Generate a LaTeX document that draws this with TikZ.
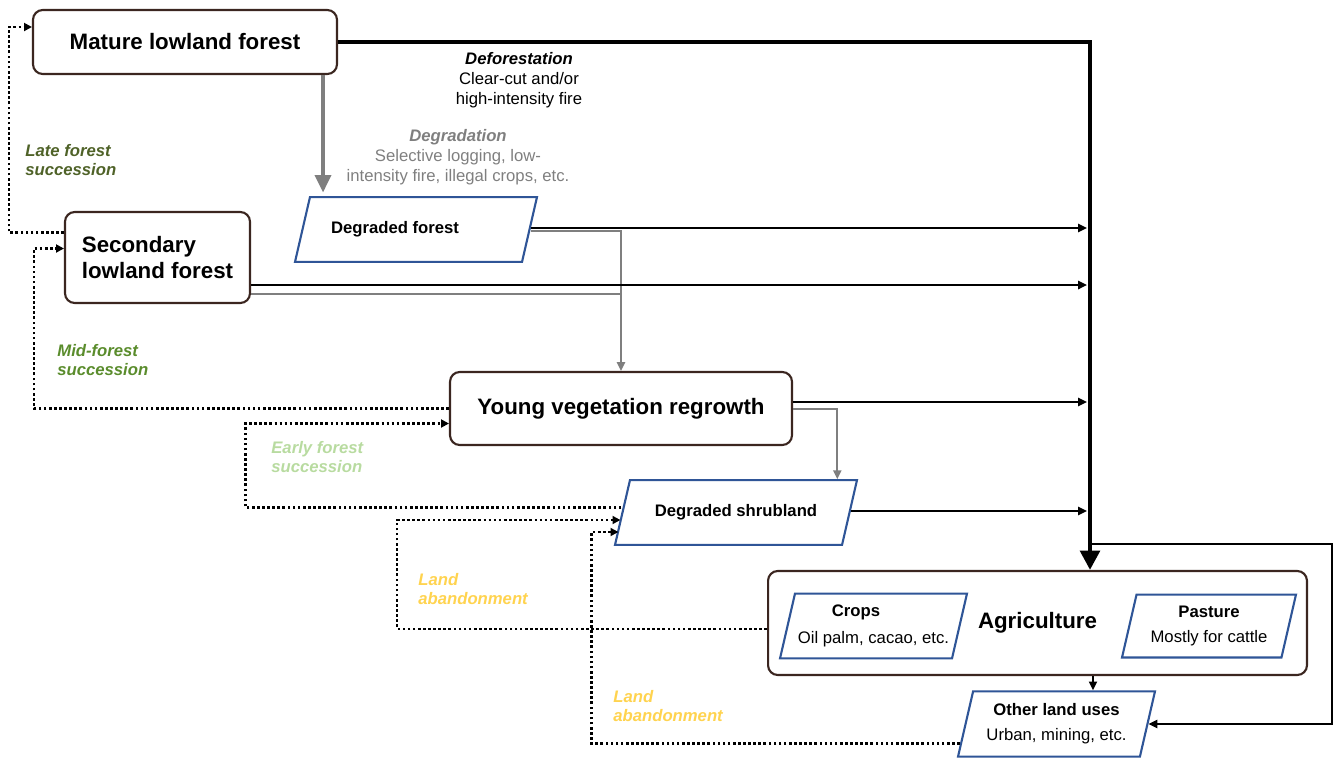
\documentclass[tikz,border=0pt]{standalone}
\usepackage{fontspec}
\setmainfont{Liberation Sans}
\usetikzlibrary{positioning, calc, shapes.geometric, arrows.meta}
\definecolor{boxline}{HTML}{3B2620}
\definecolor{landline}{HTML}{2F5597}
\definecolor{lategreen}{HTML}{4F6228}
\definecolor{midgreen}{HTML}{5A8C2C}
\definecolor{earlygreen}{HTML}{B8DBA0}
\definecolor{abandon}{HTML}{FFD34F}
\definecolor{degrade}{HTML}{7F7F7F}

\begin{document}
\begin{tikzpicture}[
        x=0.02cm, y=-0.02cm,
        big/.style={font=\fontsize{12.7}{14.5}\selectfont\bfseries},
        small/.style={font=\fontsize{9.5}{11.3}\selectfont},
        cover/.style={rectangle, draw=boxline, line width=1.2pt, rounded corners=5.5pt, fill=white, align=center, big},
        land/.style={trapezium, trapezium left angle=77, trapezium right angle=103, trapezium stretches body=true, draw=landline, line width=1.2pt, fill=white, align=center, small, inner xsep=0pt},
        single/.style={text height=7pt, text depth=2pt, inner ysep=13.9pt},
        double/.style={inner ysep=#1},
        note/.style={font=\fontsize{9.5}{11.3}\selectfont\bfseries\itshape, align=left, anchor=west, inner sep=0pt},
        flow/.style={-{Triangle[length=5pt, width=4.6pt]}, line width=1.1pt},
        trunkline/.style={-{Triangle[length=11pt, width=11pt]}, line width=2.6pt},
        greyflow/.style={-{Triangle[length=5pt, width=4.6pt]}, line width=1.1pt, draw=degrade},
        greythick/.style={-{Triangle[length=10pt, width=9pt]}, line width=2.3pt, draw=degrade},
        succ/.style={-{Triangle[length=4.5pt, width=4.5pt]}, line width=1.5pt, dash pattern=on 1.5pt off 1.4pt}
    ]
    \useasboundingbox (0,0) rectangle (1335,758);

    % land cover boxes
    \node (mature) [cover, minimum width=6.08cm, minimum height=1.28cm] at (185,42) {Mature lowland forest};
    \node (secondary) [cover, minimum width=3.7cm, minimum height=1.82cm, align=left] at (157.5,257.5) {Secondary\\lowland forest};
    \node (young) [cover, minimum width=6.84cm, minimum height=1.46cm] at (621,408.5) {Young vegetation regrowth};
    \node (agri) [cover, minimum width=10.78cm, minimum height=2.08cm] at (1037.5,623) {Agriculture};

    \node (degforest) [land, single, minimum width=4.84cm] at (416,229.5) {\textbf{Degraded forest}\hspace*{0.84cm}};
    \node (shrub) [land, single, minimum width=4.84cm] at (736,512.5) {\textbf{Degraded shrubland}};
    \node (crops) [land, double=6.5pt, minimum width=3.74cm] at (873.5,626) {\textbf{Crops}\hspace*{0.7cm}\\[4pt]Oil palm, cacao, etc.};
    \node (pasture) [land, double=6.5pt, minimum width=3.48cm] at (1209,626) {\textbf{Pasture}\\[3pt]Mostly for cattle};
    \node (other) [land, double=7pt, minimum width=3.94cm] at (1056.5,724) {\textbf{Other land uses}\\[3pt]Urban, mining, etc.};

    \coordinate (trunk) at (1090,0);
    \coordinate (stop) at (1087,0);
    \coordinate (fork) at (1090,544);

    % labels
    \node (defor) [small, align=center] at (519,80) {\textbf{\textit{Deforestation}}\\Clear-cut and/or\\high-intensity fire};
    \node (degr) [small, align=center, text=degrade] at (458,157) {\textbf{\textit{Degradation}}\\Selective logging, low-\\intensity fire, illegal crops, etc.};
    \node (late) [note, text=lategreen] at (25,160) {Late forest\\succession};
    \node (mid) [note, text=midgreen] at (57,360) {Mid-forest\\succession};
    \node (early) [note, text=earlygreen] at (271,457) {Early forest\\succession};
    \node (aband1) [note, text=abandon] at (418,589) {Land\\abandonment};
    \node (aband2) [note, text=abandon] at (613,706) {Land\\abandonment};

    % deforestation and degradation
    \draw [trunkline] (mature.east) -| (trunk |- agri.north);
    \draw [greythick, shorten >=2pt] ($(mature.south east)+(-15,0)$) coordinate (g) -- (g |- degforest.north);
    \draw [greyflow] ($(degforest.east)+(0,1.5)$) -| (young.north);
    \draw [greyflow] ($(young.east)+(0,0.5)$) -| ($(shrub.top right corner)+(-21,0)$);
    \draw [line width=1.1pt, draw=degrade] ($(secondary.south east)+(0,-10)$) coordinate (s0) -- (s0 -| young.north);
    \draw [flow] ($(degforest.east)+(0,-1.5)$) coordinate (s1) -- (s1 -| stop);
    \draw [flow] ($(secondary.south east)+(0,-19)$) coordinate (s2) -- (s2 -| stop);
    \draw [flow] ($(young.east)+(0,-6.5)$) coordinate (s3) -- (s3 -| stop);
    \draw [flow] ($(shrub.east)+(0,-1.5)$) coordinate (s4) -- (s4 -| stop);
    \draw [flow] (fork) -- ++(242,0) |- (other.east);
    \draw [flow] ($(agri.south)+(55.5,0)$) coordinate (a) -- (a |- other.north);

    % succession and abandonment
    \draw [succ] ($(secondary.west)+(0,-25)$) -- ++(-55,0) |- ($(mature.west)+(0,-15)$);
    \draw [succ] (young.west) -- ++(-415,0) |- ($(secondary.west)+(0,-9)$);
    \draw [succ] ($(shrub.west)+(0,-5)$) -- ++(-376,0) |- ($(young.west)+(0,15)$);
    \draw [succ] ($(agri.west)+(0,6)$) -- ++(-370,0) |- ($(shrub.west)+(-1,7.5)$);
    \draw [succ] ($(other.bottom left corner)+(3,-14)$) -- ++(-368,0) |- ($(shrub.west)+(-3,19.5)$);
\end{tikzpicture}
\end{document}
